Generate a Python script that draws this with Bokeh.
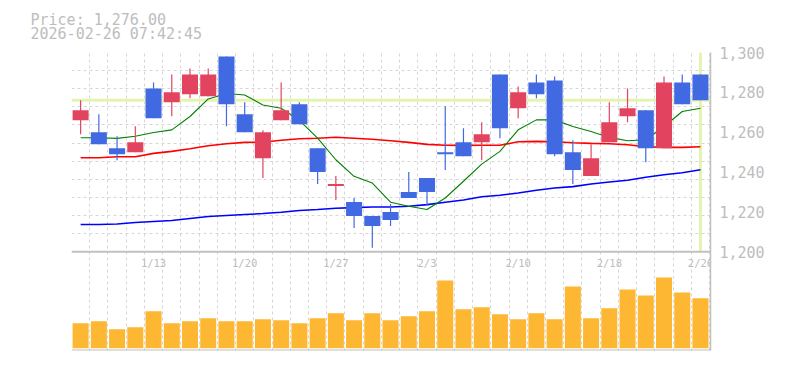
from bokeh.plotting import figure
from bokeh.models import (Range1d, FixedTicker, NumeralTickFormatter,
                          Span, Title, Grid, ColumnDataSource)
from bokeh.core.properties import value
from bokeh.embed import file_html
from bokeh.resources import INLINE

# ---- data ----
dates = ["1/6", "1/7", "1/8", "1/9", "1/13", "1/14", "1/15", "1/16", "1/19", "1/20",
         "1/21", "1/22", "1/23", "1/26", "1/27", "1/28", "1/29", "1/30", "2/2", "2/3",
         "2/4", "2/5", "2/6", "2/9", "2/10", "2/12", "2/13", "2/16", "2/17", "2/18",
         "2/19", "2/20", "2/24", "2/25", "2/26"]
open_ = [1266, 1260, 1252, 1250, 1282, 1275, 1279, 1278, 1298, 1269,
         1247, 1266, 1274, 1252, 1233, 1225, 1218, 1220, 1230, 1237,
         1250, 1255, 1255, 1289, 1272, 1285, 1286, 1250, 1238, 1255,
         1268, 1271, 1252, 1285, 1289]
high = [1276, 1269, 1258, 1263, 1285, 1289, 1292, 1292, 1298, 1275,
        1261, 1285, 1275, 1252, 1238, 1227, 1218, 1224, 1240, 1237,
        1273, 1262, 1265, 1289, 1283, 1289, 1288, 1256, 1254, 1275,
        1282, 1271, 1288, 1289, 1289]
low = [1259, 1254, 1246, 1250, 1267, 1268, 1277, 1278, 1263, 1260,
       1237, 1266, 1264, 1234, 1226, 1212, 1202, 1213, 1227, 1223,
       1241, 1248, 1246, 1257, 1267, 1277, 1248, 1234, 1238, 1255,
       1265, 1245, 1252, 1274, 1276]
close = [1271, 1254, 1249, 1255, 1267, 1280, 1289, 1289, 1274, 1260,
         1260, 1271, 1264, 1240, 1234, 1218, 1213, 1216, 1227, 1230,
         1249, 1248, 1259, 1262, 1280, 1279, 1249, 1241, 1247, 1265,
         1272, 1252, 1285, 1274, 1276]
volume = [250, 270, 190, 210, 370, 250, 270, 300, 270, 270,
          290, 280, 250, 300, 350, 280, 350, 280, 320, 370,
          680, 390, 410, 340, 290, 350, 290, 620, 300, 400,
          590, 530, 710, 560, 500]
ma_short = [1257.2, 1257.2, 1256.9, 1258.0, 1259.9, 1261.2, 1267.9, 1276.7, 1279.4, 1278.7,
            1273.7, 1272.0, 1266.0, 1257.0, 1246.2, 1237.9, 1234.5, 1224.9, 1222.9, 1221.2,
            1227.0, 1235.4, 1244.0, 1250.4, 1261.2, 1266.2, 1266.2, 1262.9, 1260.4, 1257.4,
            1255.7, 1256.2, 1262.9, 1270.4, 1272.0]
ma_mid = [1247.2, 1247.2, 1247.7, 1247.7, 1249.4, 1250.4, 1251.7, 1253.2, 1254.2, 1254.9,
          1255.0, 1256.0, 1256.7, 1257.0, 1257.5, 1257.0, 1256.5, 1255.7, 1254.9, 1253.9,
          1253.5, 1253.4, 1253.5, 1253.5, 1255.2, 1255.4, 1255.2, 1254.7, 1254.4, 1254.2,
          1253.7, 1252.7, 1252.4, 1252.4, 1252.7]
ma_long = [1213.7, 1213.7, 1214.0, 1214.7, 1215.2, 1215.7, 1216.7, 1217.7, 1218.2, 1218.7,
           1219.2, 1219.85, 1220.7, 1221.2, 1221.9, 1222.2, 1222.5, 1222.5, 1222.9, 1223.7,
           1224.9, 1226.0, 1227.6, 1228.4, 1229.5, 1230.9, 1232.0, 1232.7, 1234.0, 1235.0,
           1235.9, 1237.4, 1238.7, 1239.7, 1241.2]
label_dates = ["1/13", "1/20", "1/27", "2/3", "2/10", "2/18", "2/26"]
price_ticks = [1200, 1220, 1240, 1260, 1280, 1300]
title_price = "Price: 1,276.00"
title_time = "2026-02-26 07:42:45"

# ---- styling ----
FONT = "DejaVu Sans Mono"
UP = "#e2445f"
DOWN = "#4169e1"
VOL = "#fdb733"
GRID = "#d6d6d6"
BORDER = "#c0c0c0"
TEXT = "#bdbdbd"
HL = "#e4f4b0"

idx = list(range(1, len(dates) + 1))
colors = [UP if c >= o else DOWN for o, c in zip(open_, close)]
src = ColumnDataSource(dict(
    x=idx, open=open_, high=high, low=low, close=close,
    top=[max(o, c) for o, c in zip(open_, close)],
    bottom=[min(o, c) for o, c in zip(open_, close)],
    color=colors, vol=volume,
))

p = figure(width=776, height=360, output_backend="svg", toolbar_location=None,
           x_range=Range1d(0.5, 35.55), y_range=Range1d(1150.5, 1300),
           x_axis_location=None, y_axis_location="right",
           min_border_left=71, min_border_top=51, min_border_right=66,
           min_border_bottom=10)
p.outline_line_color = None
p.background_fill_color = "white"
p.border_fill_color = "white"
p.extra_y_ranges = {"vol": Range1d(-23, 2967)}

# header text (two lines)
p.add_layout(Title(text=title_price + "\n" + title_time, align="left", offset=-41,
                   standoff=18, text_font=FONT, text_font_size="15px",
                   text_color=TEXT, text_font_style="normal",
                   text_line_height=0.78), "above")

# grids
p.grid.visible = False
p.add_layout(Grid(dimension=0, ticker=FixedTicker(ticks=[i + 0.5 for i in range(0, 36)]),
                  grid_line_color=GRID, grid_line_dash="3 3"), "center")
p.add_layout(Grid(dimension=1, ticker=FixedTicker(ticks=[1200 + k * 100 / 11 for k in range(1, 12)]),
                  grid_line_color=GRID, grid_line_dash="3 3"), "center")

# right price axis
ax = p.yaxis[0]
ax.ticker = FixedTicker(ticks=price_ticks)
ax.formatter = NumeralTickFormatter(format="0,0")
ax.major_tick_out = 0
ax.major_tick_in = 0
ax.minor_tick_out = 0
ax.minor_tick_in = 0
ax.axis_line_color = BORDER
ax.axis_line_width = 1.5
ax.major_label_standoff = 9
ax.major_label_text_font = FONT
ax.major_label_text_font_size = "15px"
ax.major_label_text_color = TEXT

# panel separator and bottom line
p.add_layout(Span(location=price_ticks[0], dimension="width", line_color=BORDER, line_width=2))
p.add_layout(Span(location=-23, dimension="width", line_color=BORDER, line_width=2,
                  y_range_name="vol"))

# current price highlight
p.add_layout(Span(location=close[-1], dimension="width", line_color=HL, line_width=3,
                  level="underlay"))
p.segment(x0=[idx[-1]], y0=[price_ticks[0]], x1=[idx[-1]], y1=[price_ticks[-1]],
          line_color=HL, line_width=3)

# volume
p.vbar(x="x", top="vol", bottom=0, width=0.88, source=src, fill_color=VOL,
       line_color=None, y_range_name="vol")

# moving averages
p.line(idx, ma_long, line_color="#0000ff", line_width=1.6)
p.line(idx, ma_mid, line_color="#ff0000", line_width=1.6)
p.line(idx, ma_short, line_color="#008000", line_width=1.1)

# candles
p.segment(x0="x", y0="high", x1="x", y1="low", source=src, line_color="color", line_width=1.2)
p.vbar(x="x", top="top", bottom="bottom", width=0.88, source=src,
       fill_color="color", line_color=None)

# date labels inside volume panel
lx = [dates.index(d) + 1 for d in label_dates]
p.text(x=lx, y=[967] * len(lx), text=label_dates, y_range_name="vol",
       text_font=value(FONT), text_font_size="10.5px", text_color=TEXT,
       text_align="center", text_baseline="middle", y_offset=11)

open("out.html", "w").write(file_html(p, INLINE))
